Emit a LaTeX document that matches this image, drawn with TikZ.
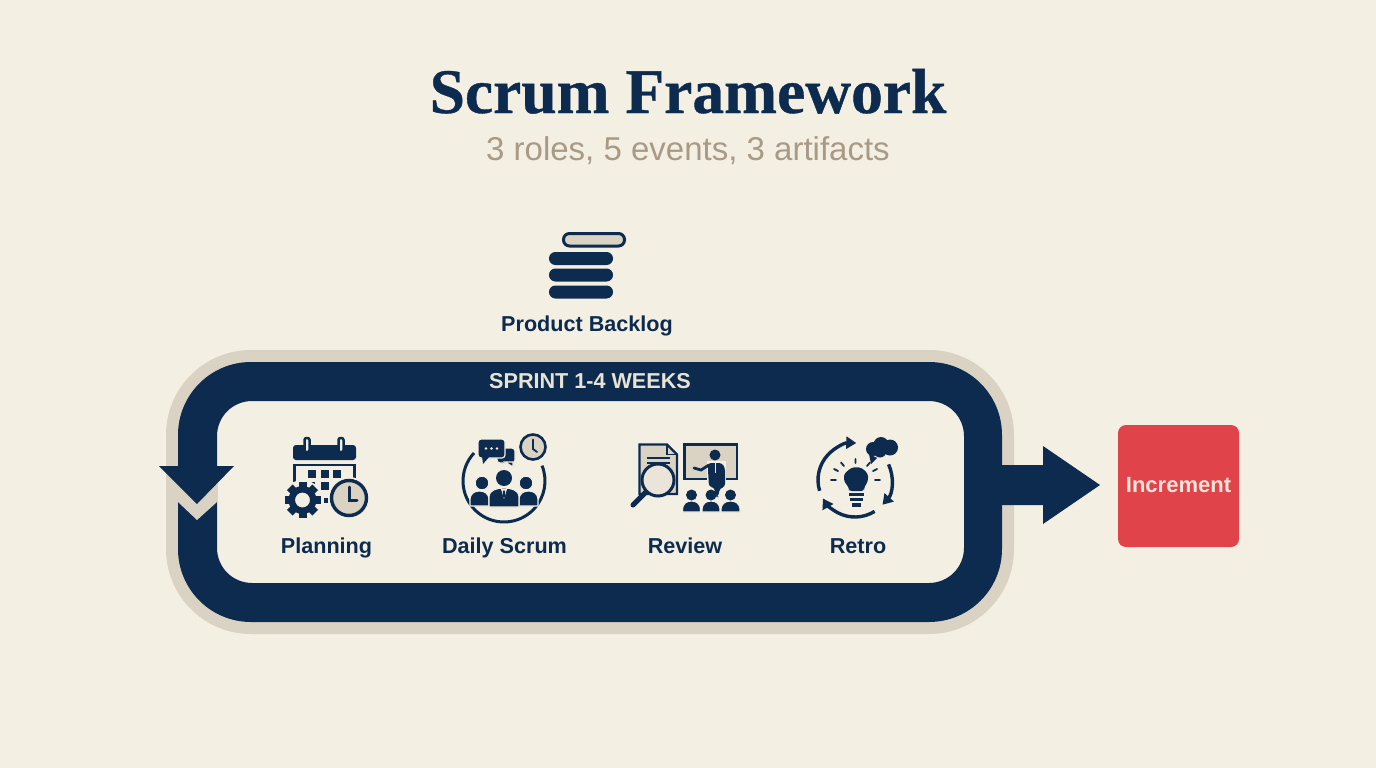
\documentclass[tikz,border=0pt]{standalone}
\usepackage{fontspec}
\usetikzlibrary{arrows.meta}
\setmainfont{Liberation Sans}
\newfontfamily\titlefont[BoldFeatures={FakeBold=0.6}]{Liberation Serif}
\definecolor{bgc}{HTML}{F3EFE3}
\definecolor{navy}{HTML}{0D2B4E}
\definecolor{sand}{HTML}{DAD3C3}
\definecolor{lens}{HTML}{EAE5D8}
\definecolor{taupe}{HTML}{A89A85}
\definecolor{redbox}{HTML}{E04349}
\definecolor{palet}{HTML}{F8E3DA}
\definecolor{sprintc}{HTML}{E8E3D5}
\tikzset{
  lab/.style={text=navy,font=\fontsize{21.6}{24}\selectfont\bfseries,inner sep=0pt,anchor=base},
  halo/.style={fill=navy,draw=bgc,line width=1.2pt},
  ln/.style={draw=navy,line width=2.6pt,line cap=round},
  carc/.style={draw=navy,line width=3.4pt,-{Triangle[length=10pt,width=12pt]}},
  face/.style={fill=sand,draw=navy,line width=2.4pt},
  pill/.style={fill=navy,rounded corners=6.4pt},
}
\newcommand{\pers}[4]{% cx, top, halfwidth, bottom
  \path[halo] (#1-#3,#4) -- (#1-#3,#2+9) .. controls (#1-#3,#2+2) and (#1-#3*0.5,#2) .. (#1,#2) .. controls (#1+#3*0.5,#2) and (#1+#3,#2+2) .. (#1+#3,#2+9) -- (#1+#3,#4) -- cycle;
}
\begin{document}
\begin{tikzpicture}[x=1pt,y=-1pt]
\useasboundingbox (0,0) rectangle (1376,768);
\fill[bgc] (0,0) rectangle (1376,768);
% titles
\node[inner sep=0pt,text=navy,font=\titlefont\fontsize{63.5}{66}\selectfont\bfseries,anchor=base] (title) at (688,113) {Scrum Framework};
\node[inner sep=0pt,text=taupe,font=\fontsize{33}{36}\selectfont,anchor=base] (subtitle) at (688,160.5) {3 roles, 5 events, 3 artifacts};
% backlog icon
\draw[fill=sand,draw=navy,line width=3pt,rounded corners=6pt] (563.5,233.5) rectangle (624.5,246);
\fill[pill] (549,252) rectangle (613,265);
\fill[pill] (549,268.5) rectangle (613,281.5);
\fill[pill] (549,285.5) rectangle (613,298.5);
\node[lab] (backlog) at (587,331) {Product Backlog};
% sprint loop
\fill[sand,rounded corners=85pt] (166,350) rectangle (1014,634);
\fill[bgc,rounded corners=35pt] (217,401) rectangle (964,583);
\fill[navy,even odd rule] [rounded corners=73pt] (178,362) rectangle (1002,622) [rounded corners=35pt] (217,401) rectangle (964,583);
% loop arrow head at the left
\fill[sand] (178,480) -- (217,480) -- (217,502) -- (197,520) -- (178,502) -- cycle;
\fill[navy] (159,466) -- (234,466) -- (197,504) -- cycle;
\fill[navy] (178,450) rectangle (217,467);
\node[inner sep=0pt,text=sprintc,font=\fontsize{21.6}{24}\selectfont\bfseries,anchor=base] (sprint) at (590,388.5) {SPRINT 1-4 WEEKS};
% arrow to increment
\coordinate (shaftstart) at (998,485);
\node[fill=redbox,rounded corners=8pt,minimum width=121pt,minimum height=122pt,inner sep=0pt] (increment) at (1178.5,486) {};
\node[inner sep=0pt,text=palet,font=\fontsize{22}{24}\selectfont\bfseries,anchor=base] (incrementtext) at (1178.5,492.5) {Increment};
\fill[navy] (shaftstart |- 0,465) -- (1043,465) -- (1043,446) -- (1100,485) -- (1043,524) -- (1043,505) -- (shaftstart |- 0,505) -- cycle;
% planning icon
\fill[navy,rounded corners=3pt] (293,460) -- (293,445) -- (356,445) -- (356,460) -- cycle;
\fill[navy] (293,452) rectangle (356,458);
\draw[navy,line width=2.5pt] (294.5,488) -- (294.5,465) -- (354.5,465) -- (354.5,482);
\foreach \xx in {307,341}{\draw[navy,line width=2.5pt,line cap=round,fill=bgc,rounded corners=2pt] (\xx-2.5,438) rectangle (\xx+2.5,452);}
\foreach \xx/\yy in {308/470,321/470,333/470,321/482}{\fill[navy] (\xx,\yy) rectangle ++(7.5,7.5);}
\fill[navy] (324,498) rectangle ++(3.5,5);
\fill[navy] (309,482) rectangle ++(6,1.5);
\fill[bgc] (302.5,500) circle[radius=20pt];
\foreach \aa in {0,45,...,315}{\fill[navy,rotate around={\aa:(302.5,500)}] (298.5,482) rectangle (306.5,490);}
\fill[navy,even odd rule] (302.5,500) circle[radius=14pt] (302.5,500) circle[radius=7.5pt];
\fill[bgc] (349,498) circle[radius=21pt];
\draw[navy,line width=3.4pt,fill=sand] (349,498) circle[radius=17.5pt];
\draw[ln,line width=3pt] (349,487) -- (349,500) -- (357,500);
\node[lab] (planning) at (326.5,553) {Planning};
% daily scrum icon
\draw[navy,line width=3pt] (504,481) ++(137:41pt) arc[start angle=137,end angle=382,radius=41pt];
\path[halo,rounded corners=3pt] (497,448) rectangle (515,463);
\path[halo] (505,462) -- (513,462) -- (513,467) -- cycle;
\path[fill=navy,draw=bgc,line width=1.2pt,rounded corners=3pt] (478,439) rectangle (505,458);
\path[fill=navy] (482,456) -- (490,456) -- (483,464) -- cycle;
\foreach \xx in {486,491.5,497}{\fill[bgc] (\xx,448.5) circle[radius=1.3pt];}
\draw[face,line width=2.6pt] (533,447) circle[radius=12.5pt];
\draw[navy,line width=1.8pt,line cap=round] (533,439.5) -- (533,449) -- (537,452);
\pers{479.5}{491}{9.5}{506}
\pers{528.5}{491}{9.5}{506}
\fill[navy,draw=bgc,line width=1pt] (482,483) circle[radius=6.8pt];
\fill[navy,draw=bgc,line width=1pt] (526,483) circle[radius=6.8pt];
\pers{504}{488}{15}{507}
\fill[navy] (504,478) circle[radius=8pt];
\fill[bgc] (501,489) -- (507,489) -- (504,499) -- cycle;
\fill[navy] (503,490.5) -- (505,490.5) -- (505.3,496) -- (504,498) -- (502.7,496) -- cycle;
\node[lab] (daily) at (504.5,553) {Daily Scrum};
% review icon
\draw[face] (639.5,444.5) -- (667,444.5) -- (677,454.5) -- (677,494) -- (639.5,494) -- cycle;
\draw[navy,line width=1.6pt] (667,444.5) -- (667,454.5) -- (677,454.5);
\draw[navy,line width=1.6pt] (647,458) -- (670,458) (647,463) -- (670,463);
\draw[navy,line width=5pt,line cap=round] (646,492) -- (633,505);
\draw[navy,line width=3pt,fill=lens] (658,480) circle[radius=16pt];
\draw[face] (684.5,444.5) rectangle (737,479);
\fill[bgc] (707,461) rectangle (726,500);
\fill[navy] (715,455) circle[radius=5.5pt];
\fill[navy,rounded corners=3pt] (708,463) -- (722,463) -- (725,468) -- (725,487) -- (720,488) -- (718,497) -- (716,497) -- (714,487) -- (709,487) -- (708,470) -- cycle;
\draw[navy,line width=2.8pt,line cap=round] (709,465) -- (701,470) -- (694,468);
\draw[bgc,line width=.8pt] (715.5,463) -- (715.5,473);
\foreach \xx/\wd in {691.5/9,711/9,730.5/9.5}{
  \pers{\xx}{501}{\wd}{512}
  \fill[navy] (\xx,495) circle[radius=5.5pt];
}
\node[lab] (review) at (685,553) {Review};
% retro icon
\draw[carc] (855,480) ++(197:37pt) arc[start angle=197,end angle=88,radius=37pt];
\draw[carc] (855,480) ++(25:37pt) arc[start angle=25,end angle=-42,radius=37pt];
\draw[carc] (855,480) ++(-58:37pt) arc[start angle=-58,end angle=-150,radius=37pt];
\path[fill=navy,rounded corners=2.5pt] (849,491) -- (849,488) -- (844,481) -- (844,474) -- (851,468) -- (856,467) -- (862,468) -- (868,474) -- (868,481) -- (864,488) -- (864,491) -- cycle;
\fill[navy] (849,493) rectangle (864,496);
\fill[navy] (850,498) rectangle (863,501);
\fill[navy] (852,503) rectangle (861,506.5);
\draw[navy,line width=1.8pt,line cap=round]
  (855.5,463) -- (855.5,459) (844,466) -- (841,462.5) (867,466) -- (870,462.5)
  (838,471) -- (834,469) (873,471) -- (877,469) (836,480) -- (831,480) (875,480) -- (880,480);
\fill[navy] (869,454) -- (877,458) -- (871,464) -- cycle;
\fill[navy] (873,449) circle[radius=7pt];
\fill[navy] (881,444.5) circle[radius=7.5pt];
\fill[navy] (890,447.5) circle[radius=8pt];
\fill[navy] (880,451) circle[radius=6.5pt];
\node[lab] (retro) at (858,553) {Retro};
\end{tikzpicture}
\end{document}
